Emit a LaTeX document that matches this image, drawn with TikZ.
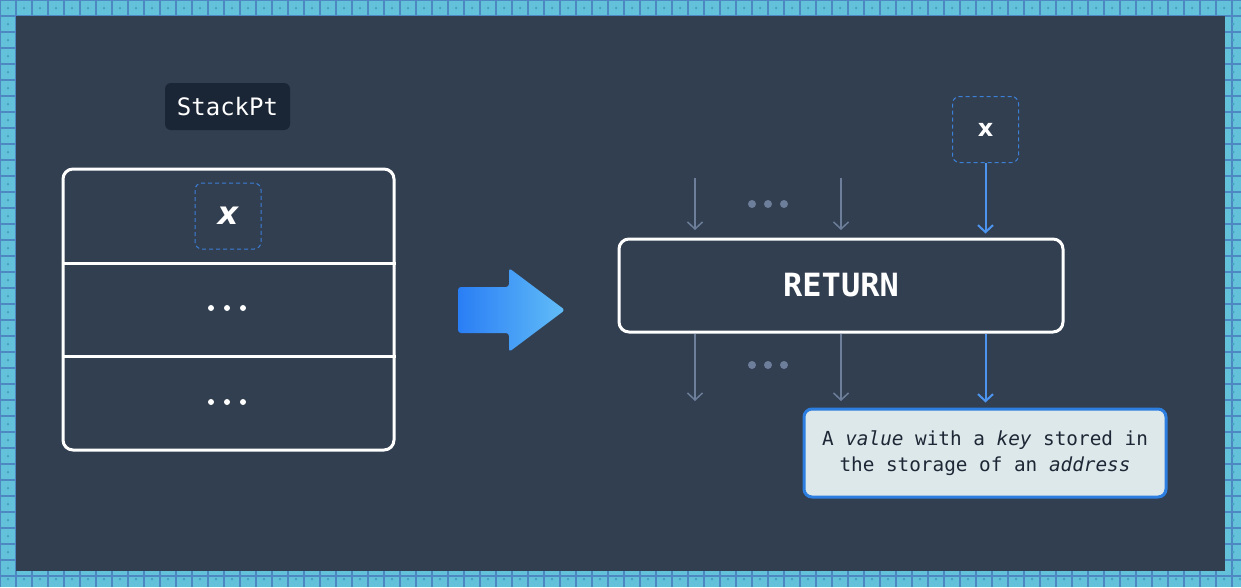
\documentclass[tikz,border=0pt]{standalone}
\usepackage{fontspec}
\setmainfont{DejaVu Sans}
\setmonofont{DejaVu Sans Mono}
\usetikzlibrary{arrows.meta}
\newdimen\pxu \pxu=0.75pt
\definecolor{bgc}{HTML}{323F51}
\definecolor{tilec}{HTML}{63C2D9}
\definecolor{tileln}{HTML}{4D88C2}
\definecolor{tiledot}{HTML}{4AA3C4}
\definecolor{labelc}{HTML}{1A2535}
\definecolor{grayc}{HTML}{6C7E99}
\definecolor{bluec}{HTML}{4D94EF}
\definecolor{dashc}{HTML}{3C7FD6}
\definecolor{infofill}{HTML}{DDE8EB}
\definecolor{infoline}{HTML}{2C7EE0}
\definecolor{infotext}{HTML}{1D2735}
\definecolor{arrL}{HTML}{2A7EF5}
\definecolor{arrR}{HTML}{62BDF7}
\begin{document}
\begin{tikzpicture}[x=0.75pt,y=-0.75pt,
  tileline/.style={draw=tileln,line width=1.5\pxu},
  whitebox/.style={draw=white,line width=3\pxu,rounded corners=10\pxu,inner sep=0pt},
  dashbox/.style={draw=dashc,dash pattern=on 4\pxu off 3\pxu,line width=1\pxu,rounded corners=7\pxu,minimum width=66\pxu,minimum height=66\pxu,inner sep=0pt,text=white},
  grayarr/.style={draw=grayc,line width=1.5\pxu,-{Straight Barb[length=5.25pt,width=11.25pt]}},
  bluearr/.style={draw=bluec,line width=2\pxu,-{Straight Barb[length=5.25pt,width=11.25pt]}},
  wdot/.style={circle,fill=white,inner sep=0pt,minimum size=6\pxu},
  gdot/.style={circle,fill=grayc,inner sep=0pt,minimum size=8\pxu}
]
\useasboundingbox (0,0) rectangle (1241,587);
% tiled frame
\fill[tilec] (0,0) rectangle (1241,587);
\foreach \i in {0,...,77} \draw[tileline] (16*\i,0) -- (16*\i,587);
\foreach \j in {0,...,37} \draw[tileline] (0,16*\j) -- (1241,16*\j);
\foreach \i in {0,...,77} {
  \fill[tiledot] (16*\i+8,8) circle (1.5);
  \fill[tiledot] (16*\i+8,579) circle (1.5);
}
\foreach \j in {1,...,35} {
  \fill[tiledot] (8,16*\j+8) circle (1.5);
  \fill[tiledot] (1233,16*\j+8) circle (1.5);
}
\fill[bgc] (16,16) rectangle (1225,571);

% left: stack
\node[fill=labelc,rounded corners=6\pxu,minimum width=125\pxu,minimum height=47\pxu,inner sep=0pt,text=white,font=\ttfamily\fontsize{18}{22}\selectfont] (stackpt) at (227.5,106.5) {StackPt};
\node[whitebox,minimum width=331\pxu,minimum height=281\pxu] (stack) at (228.5,309.5) {};
\draw[draw=white,line width=3\pxu] (stack.west |- {(0,263)}) -- (stack.east |- {(0,263)});
\draw[draw=white,line width=3\pxu] (stack.west |- {(0,356)}) -- (stack.east |- {(0,356)});
\node[dashbox,font=\bfseries\itshape\fontsize{24}{28}\selectfont] (xl) at (228,216) {x};
\node[wdot] (l1a) at (211,308) {};
\node[wdot] (l1b) at (227,308) {};
\node[wdot] (l1c) at (243,308) {};
\node[wdot] (l2a) at (211,402) {};
\node[wdot] (l2b) at (227,402) {};
\node[wdot] (l2c) at (243,402) {};

% big arrow
\shade[left color=arrL,right color=arrR,rounded corners=3\pxu]
  (458,287) -- (509,287) -- (509,268) -- (565,310) -- (509,352) -- (509,333) -- (458,333) -- cycle;

% right: RETURN
\node[whitebox,minimum width=444\pxu,minimum height=93\pxu,text=white,font=\ttfamily\bfseries\fontsize{24}{28}\selectfont] (ret) at (841,285.5) {RETURN};
\node[dashbox,font=\bfseries\fontsize{18}{22}\selectfont] (xr) at (985.5,129.5) {x};

\coordinate (a1s) at (695,178);
\coordinate (a2s) at (841,178);
\coordinate (a1e) at (695,230);
\coordinate (a2e) at (841,230);
\draw[grayarr] (a1s) -- (a1e);
\draw[grayarr] (a2s) -- (a2e);
\node[gdot] (t1) at (752,204) {};
\node[gdot] (t2) at (768,204) {};
\node[gdot] (t3) at (784,204) {};
\draw[bluearr,shorten >=4\pxu] (xr.south) -- (xr.south |- ret.north);

\coordinate (b1e) at (695,401);
\coordinate (b2e) at (841,401);
\draw[grayarr] (a1s |- ret.south) -- (b1e);
\draw[grayarr] (a2s |- ret.south) -- (b2e);
\node[gdot] (u1) at (752,365) {};
\node[gdot] (u2) at (768,365) {};
\node[gdot] (u3) at (784,365) {};

\node[draw=infoline,fill=infofill,line width=3\pxu,rounded corners=8\pxu,minimum width=362\pxu,minimum height=88\pxu,inner sep=0pt,align=center,text=infotext,font=\ttfamily\fontsize{14.5}{19.5}\selectfont] (info) at (985,453) {A \textit{value} with a \textit{key} stored in\\the storage of an \textit{address}};
\draw[bluearr,shorten >=5\pxu] (xr.south |- ret.south) -- (xr.south |- info.north);
\end{tikzpicture}
\end{document}
